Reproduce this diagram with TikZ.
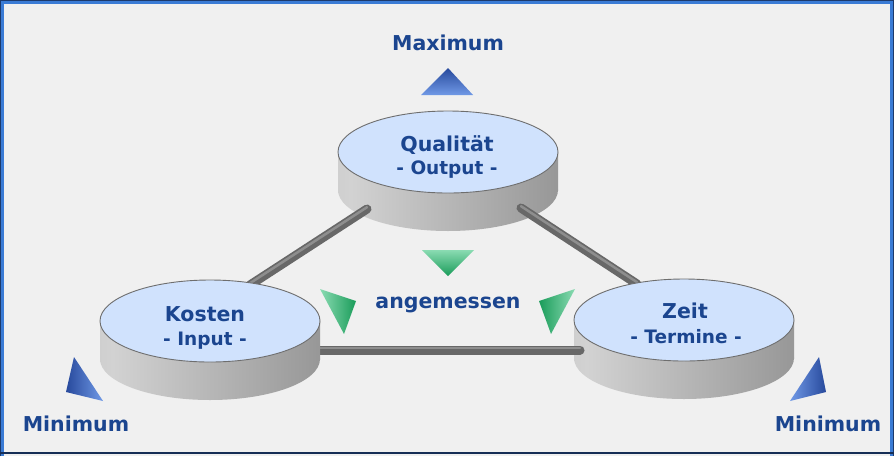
\documentclass[tikz,border=0pt]{standalone}
\usepackage{fontspec}
\setmainfont{DejaVu Sans}
\usetikzlibrary{shapes.geometric}
\definecolor{bgc}{HTML}{F0F0F0}
\definecolor{tblue}{HTML}{1B458F}
\definecolor{fblue}{HTML}{3A7BD5}
\definecolor{fdark}{HTML}{1C3A6C}
\definecolor{facec}{HTML}{D0E2FD}
\definecolor{faceline}{HTML}{6E6E6E}
\definecolor{sideA}{HTML}{B8B8B8}
\definecolor{sideB}{HTML}{D2D2D2}
\definecolor{sideC}{HTML}{787878}
\definecolor{barc}{HTML}{686868}
\definecolor{barh}{HTML}{8E8E8E}
\definecolor{bluedark}{HTML}{27499C}
\definecolor{bluelight}{HTML}{7099E6}
\definecolor{greenlight}{HTML}{8ADBB2}
\definecolor{greendark}{HTML}{1A9C5A}
\pgfdeclarehorizontalshading{sideshade}{100bp}{color(0bp)=(sideA); color(28bp)=(sideB); color(100bp)=(sideC)}
\tikzset{
  lbl/.style={text=tblue, font=\bfseries\fontsize{20.5}{24}\selectfont, inner sep=0pt, anchor=base},
  sublbl/.style={text=tblue, font=\bfseries\fontsize{18.5}{22}\selectfont, inner sep=0pt, anchor=base},
  bar/.style={line width=9pt, line cap=round, draw=barc},
  barhi/.style={line width=2.5pt, line cap=round, draw=barh},
  facestyle/.style={fill=facec, draw=faceline, line width=0.9pt},
  disk/.pic={
    \shade[shading=sideshade] (-110,0) rectangle (110,38);
    \shade[shading=sideshade] (0,38) ellipse [x radius=110, y radius=41];
    \draw[facestyle] (0,0) ellipse [x radius=110, y radius=41];
  }
}
\begin{document}
\begin{tikzpicture}[x=1pt,y=-1pt]
\useasboundingbox (0,0) rectangle (894,456);
\fill[bgc] (0,0) rectangle (894,456);

% Qualitaet disk
\pic (Qdisk) at (448,152) {disk};

% bars from Qualitaet
\coordinate (qk1) at (367,209);
\coordinate (qk2) at (250,285);
\coordinate (qz1) at (521,208);
\coordinate (qz2) at (637,284);
\draw[bar] (qk1) -- (qk2);
\draw[barhi] ([yshift=1.8pt]qk1) -- ([yshift=1.8pt]qk2);
\draw[bar] (qz1) -- (qz2);
\draw[barhi] ([yshift=1.8pt]qz1) -- ([yshift=1.8pt]qz2);

% Zeit disk
\pic (Zdisk) at (684,320) {disk};

% bottom bar
\coordinate (kz1) at (300,350);
\coordinate (kz2) at (580,350);
\draw[bar] (kz1) -- (kz2);
\draw[barhi] ([yshift=2pt]kz1) -- ([yshift=2pt]kz2);

% Kosten disk
\pic (Kdisk) at (210,321) {disk};

% texts
\node[lbl] (max) at (448,50) {Maximum};
\node[lbl] (qual) at (447,151) {Qualität};
\node[sublbl] (outp) at (447,174) {- Output -};
\node[lbl] (kost) at (205,321) {Kosten};
\node[sublbl] (inp) at (205,345) {- Input -};
\node[lbl] (zeit) at (685,318) {Zeit};
\node[sublbl] (term) at (686,343) {- Termine -};
\node[lbl] (ang) at (448,308) {angemessen};
\node[lbl] (minl) at (76,431) {Minimum};
\node[lbl] (minr) at (828,431) {Minimum};

% blue triangles
\shade[top color=bluedark, bottom color=bluelight] (448,68) -- (473,95) -- (421,95) -- cycle;
\shade[left color=bluedark, right color=bluelight] (74,357) -- (103,401) -- (66,392) -- cycle;
\shade[left color=bluelight, right color=bluedark] (819,357) -- (826,392) -- (790,401) -- cycle;

% green triangles
\shade[top color=greenlight, bottom color=greendark] (422,250) -- (474,250) -- (448,276) -- cycle;
\shade[left color=greenlight, right color=greendark] (320,289) -- (356,301) -- (344,334) -- cycle;
\shade[left color=greendark, right color=greenlight] (575,289) -- (551,334) -- (539,301) -- cycle;

% frame
\draw[line width=3.6pt, draw=fblue] (2.2,456) -- (2.2,2.2) -- (891.8,2.2) -- (891.8,456);
\draw[line width=0.8pt, draw=fdark] (0.4,456) -- (0.4,0.4) -- (893.6,0.4) -- (893.6,456);
\draw[line width=1.5pt, draw=fdark!80!black] (0,453) -- (894,453);
\end{tikzpicture}
\end{document}
